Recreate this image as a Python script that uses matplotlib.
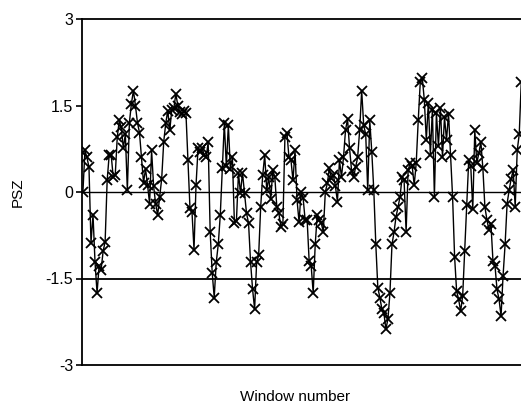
import matplotlib
matplotlib.use("Agg")
import matplotlib.pyplot as plt
import numpy as np

plt.rcParams['font.family'] = ['Liberation Sans', 'DejaVu Sans']

# PSZ values by window (left to right)
psz = [
    # windows ~1-36
    0.0, 0.72, 0.6, 0.43, -0.88, -0.4, -1.22, -1.75, -1.29, -1.35, -1.03, -0.86,
    0.2, 0.64, 0.64, 0.26, 0.29, 0.95, 1.24, 1.12, 0.76, 1.0, 0.03, 1.2, 1.53,
    1.76, 1.5, 1.2, 1.03, 0.6, 0.16, 0.4, 0.12, -0.2, 0.72, 0.1,
    # ~37-72
    -0.2, -0.4, -0.08, 0.23, 0.87, 1.19, 1.41, 1.07, 1.43, 1.45, 1.7, 1.5, 1.39,
    1.35, 1.41, 1.37, 0.55, -0.28, -0.35, -1.0, 0.12, 0.76, 0.7, 0.76, 0.65, 0.6,
    0.86, -0.69, -1.4, -1.83, -1.22, -0.91, -0.4, 0.41, 1.19, 0.45,
    # ~73-108
    1.16, 0.4, 0.6, -0.54, -0.5, 0.33, -0.02, 0.33, -0.02, -0.37, -0.54, -1.22,
    -1.69, -2.03, -1.22, -1.1, -0.26, 0.29, 0.64, 0.03, 0.26, -0.13, 0.38, 0.26,
    -0.26, -0.37, -0.6, -0.55, 0.95, 1.03, 0.6, 0.55, 0.2, 0.72, -0.14, -0.52,
    # ~109-142
    0.0, -0.1, -0.48, -0.48, -1.2, -1.28, -1.75, -0.91, -0.4, -0.48, -0.54, -0.69,
    0.0, 0.15, 0.41, 0.24, 0.29, 0.1, -0.17, 0.55, 0.26, 0.6, 1.07, 1.27, 0.76,
    0.37, 0.26, 0.43, 0.6, 1.07, 1.76, 1.16, 1.0, 0.03,
    # ~143-177
    1.24, 0.7, 0.03, -0.91, -1.66, -1.83, -2.03, -2.1, -2.38, -2.2, -1.75, -0.91,
    -0.7, -0.43, -0.26, -0.08, 0.26, 0.2, -0.69, 0.38, 0.5, 0.45, 0.12, 0.5, 1.24,
    1.9, 1.98, 1.6, 0.9, 1.55, 0.64, 1.43, -0.08, 1.37, 0.8,
    # ~178-218
    1.45, 0.6, 1.3, 0.9, 1.36, 0.64, -0.08, -1.12, -1.72, -1.86, -2.07, -1.8,
    -1.03, -0.22, 0.55, 0.45, -0.3, 1.07, 0.5, 0.67, 0.87, 0.41, -0.26, -0.48,
    -0.66, -0.56, -1.2, -1.28, -1.69, -1.86, -2.15, -1.45, -0.91, -0.2, 0.03,
    0.23, 0.38, -0.26, 0.72, 1.0, 1.9,
]
windows = np.arange(1, len(psz) + 1)

y_ticks = [3, 1.5, 0, -1.5, -3]
y_tick_labels = ["3", "1.5", "0", "-1.5", "-3"]
ref_lines = [0, -1.5]

W, H = 521, 409
fig = plt.figure(figsize=(W / 100, H / 100), dpi=100)
left_px, top_px, bottom_px = 81.5, 19, 365
n_vis = 240
width_px = (n_vis + 0.7) * 2.02
ax = fig.add_axes([left_px / W, (H - bottom_px) / H, width_px / W, (bottom_px - top_px) / H])

for r, lw in zip(ref_lines, [1.0, 1.3]):
    ax.axhline(r, color='black', lw=lw, zorder=1)

ax.plot(windows, psz, color='black', lw=1.0, marker='x', markersize=7.5,
        markeredgewidth=1.3, zorder=2)

ax.set_xlim(0.3, n_vis + 1)
ax.set_ylim(-3, 3)
ax.set_yticks(y_ticks)
ax.set_yticklabels(y_tick_labels, fontsize=11.5)
ax.set_xticks([])
ax.tick_params(axis='y', direction='out', length=4, width=1.2, pad=2)
for s in ['left', 'top', 'bottom']:
    ax.spines[s].set_linewidth(1.3)
ax.spines['right'].set_visible(False)

fig.text(18 / W, 1 - 192 / H, "PSZ", rotation=90, ha='center', va='center', fontsize=11)
fig.text(295 / W, 1 - 397 / H, "Window number", ha='center', va='center', fontsize=11)

fig.savefig("out.png", dpi=100)
